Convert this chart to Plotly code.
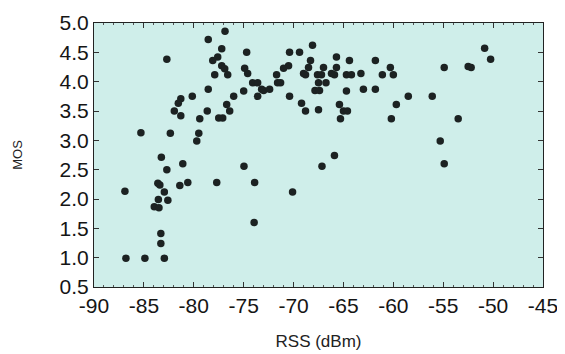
import plotly.graph_objects as go

rss = [-76.87, -78.55, -77.2, -74.7, -82.7, -77.6, -78.1, -77.2, -76.9, -74.9, -74.6, -77.9, -76.6,
       -78.55, -75.0, -76.0, -80.15, -81.3, -81.55, -81.95, -81.3, -78.65, -76.7, -76.4, -79.4,
       -77.5, -77.1, -85.3, -82.35, -79.5, -79.7, -83.25,
       -81.1, -74.97, -82.7, -83.6, -83.4, -81.4, -80.6, -77.7, -86.9, -82.95, -83.55, -82.6,
       -83.96, -83.49, -83.3, -83.3, -86.8, -84.9, -82.95,
       -68.1, -70.4, -69.4, -65.7, -68.3, -64.4, -61.8, -70.5, -71.0, -68.5, -67.0, -65.7, -60.3,
       -71.7, -69.0, -68.8, -67.6, -67.2, -66.2, -65.9, -64.7, -64.2, -63.25, -61.1, -60.0,
       -74.1, -73.6, -71.6, -71.3, -67.5, -66.75, -73.2, -73.0, -72.4, -67.85, -67.4, -64.7,
       -63.0, -61.8, -73.6, -70.4, -69.2, -65.4, -68.8, -67.5, -65.0, -64.6, -59.7, -65.3,
       -60.2, -65.9, -67.15, -73.9, -70.1, -73.95,
       -50.85, -50.25, -54.9, -52.5, -52.2, -58.5, -56.1, -53.5, -55.3, -54.9]
mos = [4.86, 4.72, 4.56, 4.50, 4.38, 4.42, 4.36, 4.27, 4.22, 4.23, 4.14, 4.12, 4.12,
       3.87, 3.84, 3.75, 3.75, 3.71, 3.63, 3.50, 3.42, 3.50, 3.61, 3.50, 3.37,
       3.38, 3.38, 3.13, 3.12, 3.12, 2.99, 2.71,
       2.60, 2.56, 2.50, 2.27, 2.24, 2.23, 2.28, 2.28, 2.13, 2.12, 1.99, 1.98,
       1.87, 1.85, 1.41, 1.24, 0.99, 0.99, 0.99,
       4.62, 4.50, 4.50, 4.42, 4.36, 4.36, 4.36, 4.27, 4.23, 4.24, 4.24, 4.24, 4.24,
       4.12, 4.14, 4.12, 4.12, 4.12, 4.14, 4.12, 4.12, 4.12, 4.14, 4.12, 4.12,
       3.98, 3.98, 3.98, 3.98, 3.98, 3.98, 3.87, 3.85, 3.87, 3.85, 3.85, 3.84,
       3.87, 3.87, 3.75, 3.75, 3.63, 3.61, 3.50, 3.52, 3.50, 3.50, 3.61, 3.37,
       3.37, 2.74, 2.56, 2.28, 2.12, 1.60,
       4.57, 4.38, 4.24, 4.26, 4.24, 3.75, 3.75, 3.37, 2.99, 2.60]

x_ticks = [-90, -85, -80, -75, -70, -65, -60, -55, -50, -45]
y_ticks = [0.5, 1.0, 1.5, 2.0, 2.5, 3.0, 3.5, 4.0, 4.5, 5.0]

fig = go.Figure(go.Scatter(
    x=rss, y=mos, mode="markers",
    marker=dict(color="#1c2222", size=7.5, line=dict(width=0)),
    showlegend=False))

axis_common = dict(showline=True, linecolor="#222222", linewidth=1, mirror="ticks",
                   ticks="inside", ticklen=5, tickcolor="#333333", showgrid=False,
                   zeroline=False, automargin=False,
                   tickfont=dict(family="Liberation Sans, Arial, sans-serif", size=21, color="#151515"))

# page body has an 8px default margin; the figure is sized/margined to compensate
fig.update_layout(
    width=557, height=346,
    margin=dict(l=86, r=22, t=15, b=67, autoexpand=False),
    paper_bgcolor="white", plot_bgcolor="#cfeeea",
    font=dict(family="Liberation Sans, Arial, sans-serif", color="#222222"),
    xaxis=dict(range=[-90, -45], tickvals=x_ticks, ticktext=[str(v) for v in x_ticks],
               minor=dict(dtick=1, ticks="inside", ticklen=2, tickcolor="#555555"),
               title=dict(text="RSS (dBm)", font=dict(size=17), standoff=18),
               **axis_common),
    yaxis=dict(range=[0.5, 5.0], tickvals=y_ticks, ticktext=[f"{v:.1f}" for v in y_ticks],
               title=dict(text="MOS", font=dict(size=13), standoff=34),
               **axis_common),
)

fig.write_html("out.html")
